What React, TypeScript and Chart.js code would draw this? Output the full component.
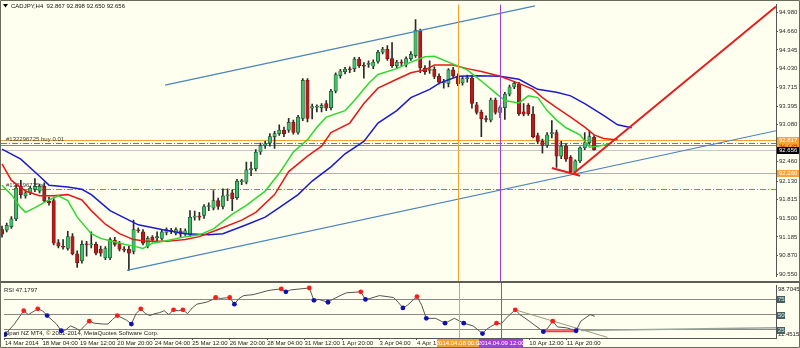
import React, { useEffect, useRef } from 'react';
import { Chart, registerables } from 'chart.js';

Chart.register(...registerables);

const FONT = '"Liberation Sans", Arial, Helvetica, sans-serif';
const BG = '#fffff0';

// ---------- CADJPY H4 candles (bar index 0..126) ----------
const opens = [
  91.31, 91.30, 91.36, 91.49, 92.04, 91.88, 91.93, 91.99, 91.96, 92.04,
  91.79, 91.80, 91.09, 91.02, 90.99, 91.19, 90.90, 90.78, 91.06, 91.05,
  91.06, 90.98, 90.83, 90.83, 91.13, 91.08, 90.98, 90.98, 90.94, 91.30,
  91.27, 91.03, 91.18, 91.17, 91.16, 91.26, 91.29, 91.25, 91.29, 91.24,
  91.22, 91.52, 91.53, 91.55, 91.70, 91.67, 91.80, 91.70, 91.88, 91.93,
  91.85, 92.12, 92.11, 92.32, 92.34, 92.62, 92.73, 92.77, 92.88, 92.93,
  92.99, 92.99, 93.12, 92.95, 93.19, 93.83, 93.36, 93.38, 93.37, 93.44,
  93.37, 93.65, 93.91, 93.98, 94.02, 94.03, 94.19, 94.08, 94.10, 94.07,
  94.15, 94.31, 94.36, 94.20, 94.08, 94.13, 94.10, 94.20, 94.25, 94.67,
  94.04, 94.00, 94.02, 93.90, 93.79, 93.78, 94.01, 93.90, 93.79, 93.86,
  93.87, 93.42, 93.29, 93.18, 93.16, 93.50, 93.29, 93.37, 93.60, 93.72,
  93.77, 93.30, 93.41, 93.26, 92.90, 92.80, 92.73, 92.93, 92.95, 92.55,
  92.72, 92.53, 92.29, 92.47, 92.69, 92.78, 92.867,
];
const highs = [
  91.37, 91.42, 91.53, 92.06, 92.14, 91.97, 92.04, 92.17, 92.08, 92.10,
  91.86, 91.86, 91.14, 91.14, 91.28, 91.24, 90.95, 91.12, 91.11, 91.27,
  91.10, 91.03, 91.02, 91.17, 91.18, 91.11, 91.02, 91.03, 91.47, 91.34,
  91.31, 91.19, 91.21, 91.27, 91.30, 91.34, 91.33, 91.34, 91.33, 91.32,
  91.63, 91.62, 91.60, 91.73, 91.76, 91.97, 91.84, 92.00, 92.00, 91.98,
  92.16, 92.16, 92.45, 92.45, 92.66, 92.77, 92.80, 92.93, 92.97, 93.08,
  93.04, 93.19, 93.16, 93.24, 93.86, 93.86, 93.43, 93.42, 93.44, 93.49,
  93.68, 93.96, 94.02, 94.05, 94.06, 94.22, 94.22, 94.13, 94.16, 94.18,
  94.34, 94.39, 94.42, 94.47, 94.17, 94.18, 94.23, 94.32, 94.86, 94.70,
  94.08, 94.16, 94.06, 93.94, 93.85, 94.03, 94.05, 93.94, 93.90, 93.92,
  93.90, 93.46, 93.33, 93.23, 93.53, 93.53, 93.40, 93.63, 93.75, 93.81,
  93.80, 93.44, 93.44, 93.39, 92.94, 92.84, 92.95, 93.15, 92.99, 92.80,
  92.76, 92.56, 92.49, 92.71, 92.95, 92.98, 92.898,
];
const lows = [
  91.18, 91.27, 91.33, 91.46, 91.84, 91.84, 91.90, 91.95, 91.93, 91.78,
  91.72, 91.05, 91.00, 90.98, 90.96, 90.88, 90.67, 90.74, 90.86, 91.00,
  90.88, 90.86, 90.80, 90.80, 91.03, 90.95, 90.93, 90.62, 90.90, 91.26,
  91.05, 91.00, 91.10, 91.10, 91.13, 91.22, 91.24, 91.22, 91.19, 91.21,
  91.19, 91.47, 91.47, 91.50, 91.63, 91.64, 91.65, 91.66, 91.80, 91.63,
  91.82, 92.07, 92.08, 92.22, 92.30, 92.58, 92.68, 92.72, 92.68, 92.90,
  92.88, 92.95, 92.92, 92.92, 93.15, 93.13, 93.18, 93.30, 93.30, 93.32,
  93.33, 93.62, 93.87, 93.94, 93.96, 93.98, 94.05, 93.87, 94.05, 94.03,
  94.12, 94.28, 94.17, 94.05, 94.04, 94.08, 94.06, 94.17, 94.22, 93.96,
  93.93, 93.95, 93.86, 93.77, 93.70, 93.72, 93.88, 93.74, 93.75, 93.80,
  93.36, 93.26, 92.88, 93.13, 93.13, 93.26, 93.20, 93.17, 93.57, 93.69,
  93.24, 93.23, 93.24, 92.86, 92.76, 92.60, 92.70, 92.86, 92.36, 92.51,
  92.46, 92.26, 92.26, 92.44, 92.66, 92.75, 92.650,
];
const closes = [
  91.23, 91.38, 91.49, 92.01, 91.90, 91.93, 92.01, 92.04, 92.04, 91.80,
  91.76, 91.08, 91.03, 91.01, 91.19, 90.90, 90.75, 91.06, 91.05, 91.07,
  90.91, 90.91, 90.99, 91.14, 91.06, 90.98, 90.96, 90.91, 91.31, 91.29,
  91.08, 91.16, 91.13, 91.19, 91.27, 91.31, 91.28, 91.31, 91.23, 91.29,
  91.52, 91.53, 91.52, 91.70, 91.71, 91.80, 91.70, 91.88, 91.89, 91.83,
  92.13, 92.13, 92.32, 92.34, 92.62, 92.73, 92.76, 92.88, 92.93, 92.99,
  92.93, 93.12, 92.95, 93.21, 93.83, 93.19, 93.39, 93.39, 93.41, 93.36,
  93.65, 93.93, 93.99, 94.02, 94.01, 94.19, 94.08, 94.07, 94.12, 94.14,
  94.31, 94.36, 94.20, 94.08, 94.14, 94.12, 94.20, 94.27, 94.68, 94.04,
  93.98, 94.02, 93.90, 93.80, 93.81, 94.01, 93.91, 93.77, 93.86, 93.87,
  93.44, 93.29, 93.18, 93.17, 93.50, 93.29, 93.37, 93.60, 93.72, 93.78,
  93.27, 93.26, 93.27, 92.88, 92.80, 92.73, 92.91, 92.94, 92.55, 92.72,
  92.50, 92.29, 92.47, 92.69, 92.78, 92.88, 92.656,
];

// ---------- Alligator lines (bar index, price) ----------
const lipsIdx = [0, 2, 4, 5, 7, 10, 12, 14, 16, 19, 21, 23, 26, 28, 30, 32, 35, 39, 42, 45, 49, 52, 56, 59, 62, 65, 67, 69, 73, 75, 78, 80, 84, 87, 90, 92, 95, 99, 102, 105, 107, 110, 112, 114, 116, 118, 120, 123, 125, 127, 129];
const lipsVal = [92.06, 91.90, 91.68, 91.60, 91.68, 91.81, 91.88, 91.80, 91.52, 91.24, 91.16, 91.12, 91.06, 91.03, 90.99, 91.08, 91.12, 91.19, 91.22, 91.32, 91.57, 91.72, 91.96, 92.26, 92.62, 92.83, 93.04, 93.21, 93.32, 93.49, 93.78, 93.93, 94.03, 94.14, 94.23, 94.24, 94.14, 94.01, 93.82, 93.62, 93.49, 93.45, 93.57, 93.54, 93.32, 93.16, 93.03, 92.91, 92.70, 92.72, 92.75];
const teethIdx = [0, 2, 5, 8, 11, 14, 17, 19, 22, 25, 28, 31, 35, 39, 42, 46, 51, 54, 58, 61, 65, 68, 70, 74, 77, 80, 84, 87, 90, 92, 96, 99, 102, 106, 110, 113, 115, 118, 121, 124, 126, 128, 130, 131];
const teethVal = [92.42, 92.14, 91.96, 91.88, 91.88, 91.90, 91.81, 91.63, 91.40, 91.24, 91.14, 91.11, 91.11, 91.14, 91.19, 91.31, 91.47, 91.60, 91.90, 92.29, 92.55, 92.72, 92.95, 93.11, 93.44, 93.70, 93.85, 93.96, 94.01, 94.09, 94.09, 94.03, 93.98, 93.90, 93.78, 93.68, 93.54, 93.37, 93.21, 93.04, 92.91, 92.85, 92.83, 92.83];
const jawIdx = [0, 4, 8, 10, 14, 17, 19, 23, 27, 29, 34, 39, 44, 47, 52, 56, 59, 63, 66, 70, 73, 77, 80, 84, 87, 91, 93, 97, 101, 106, 110, 114, 118, 121, 124, 128, 131, 134];
const jawVal = [92.67, 92.50, 92.21, 92.06, 92.03, 91.99, 91.90, 91.63, 91.47, 91.39, 91.31, 91.24, 91.22, 91.24, 91.39, 91.52, 91.68, 91.90, 92.13, 92.37, 92.59, 92.80, 93.11, 93.32, 93.54, 93.68, 93.78, 93.90, 93.91, 93.90, 93.85, 93.68, 93.63, 93.57, 93.44, 93.24, 93.08, 93.03];

// ---------- drawn objects ----------
const upperChannelIdx = [34.7, 113.4];
const upperChannelPrice = [93.75, 95.09];
const lowerChannelIdx = [26.6, 164.7];
const lowerChannelPrice = [90.62, 92.98];
const redRayIdx = [121.5, 164.7];
const redRayPrice = [92.25, 95.08];
const redLowIdx = [117, 123];
const redLowPrice = [92.35, 92.22];

const levelPrices = [92.817, 92.777, 92.734, 92.656, 92.26, 91.994];
const orderLabelPrices = [92.777, 91.994];
const orderLabels = ['#132296725 buy 0.01', '#132296725 sl'];
const axisBoxPrices = [92.734, 92.817, 92.656, 92.26];

const priceTicks = [94.98, 94.66, 94.345, 94.03, 93.715, 93.395, 93.08, 92.46, 92.13, 91.815, 91.5, 91.185, 90.87, 90.55];

const vLineIdx = [97, 106];
const vLineLabels = ['2014.04.08 00:00', '2014.04.09 12:00'];

const xTickIdx = [0, 8, 16, 24, 32, 40, 48, 56, 64, 72, 80, 88, 112, 120];
const xTickLabels = ['14 Mar 2014', '18 Mar 04:00', '19 Mar 12:00', '20 Mar 20:00', '24 Mar 04:00', '25 Mar 12:00', '26 Mar 20:00', '28 Mar 04:00', '31 Mar 12:00', '1 Apr 20:00', '3 Apr 04:00', '4 Apr 12:00', '10 Apr 12:00', '11 Apr 20:00'];

// ---------- RSI ----------
const rsiIdx = [0, 2, 4, 5, 6, 7, 8, 9, 11, 12, 13, 14, 15, 16, 17, 18, 19, 21, 22, 23, 24, 26, 27, 28, 29, 30, 31, 32, 33, 34, 35, 36, 37, 38, 39, 40, 41, 43, 44, 45, 46, 48, 49, 50, 51, 53, 56, 57, 59, 60, 61, 63, 65, 66, 67, 69, 70, 72, 73, 76, 77, 78, 80, 83, 84, 85, 86, 88, 89, 90, 92, 94, 96, 98, 100, 102, 103, 105, 106, 107, 109, 110, 112, 115, 116, 117, 118, 120, 122, 123, 125, 126];
const rsiVal = [17.2, 34.4, 56.3, 50.0, 54.7, 59.4, 56.3, 48.4, 34.4, 23.4, 25.0, 31.3, 28.1, 23.4, 31.3, 39.1, 35.9, 34.4, 34.4, 42.2, 48.4, 40.6, 34.4, 51.6, 59.4, 51.6, 48.4, 51.6, 53.1, 56.3, 50.0, 57.8, 56.3, 57.8, 51.6, 60.9, 67.2, 70.3, 73.4, 78.1, 76.6, 78.1, 67.2, 76.6, 81.3, 82.8, 89.1, 90.6, 92.2, 87.5, 90.6, 92.2, 93.8, 73.4, 75.0, 70.3, 75.0, 82.8, 85.9, 87.5, 75.0, 76.6, 81.3, 78.1, 70.3, 60.9, 65.6, 79.7, 65.6, 43.8, 43.8, 35.9, 43.8, 35.9, 31.3, 18.8, 26.6, 35.9, 34.4, 43.8, 57.8, 50.0, 39.1, 21.9, 28.1, 39.1, 29.7, 28.1, 23.4, 39.1, 50.0, 47.1797];
const rsiPeakIdx = [4, 7, 18, 24, 29, 36, 38, 45, 48, 59, 65, 76, 88, 105, 109, 117];
const rsiTroughIdx = [0, 9, 12, 27, 49, 60, 66, 69, 77, 85, 90, 94, 98, 102, 115, 122];
const rsiLevels = [25, 50, 75];
const rsiTrendIdx = [109, 128.7];
const rsiTrendVal = [57.8, 12.5];
const rsiRedIdx = [115, 122];
const rsiRedVal = [22.4, 22.4];
const rsiFlatIdx = [123, 164.7];
const rsiFlatVal = [24.0, 28.5];

const XMIN = -0.213;
const XMAX = 164.7;
const YMIN = 90.518;
const YMAX = 95.112;
const RSI_MIN = 11.4515;
const RSI_MAX = 98.7045;

const pts = (xs: number[], ys: number[]) => xs.map((x, i) => ({ x, y: ys[i] }));
const lineDs = (data: any[], color: string, width: number, order: number, dash: number[] = []) => ({
  type: 'line' as const,
  data,
  borderColor: color,
  borderWidth: width,
  borderDash: dash,
  pointRadius: 0,
  tension: 0,
  fill: false,
  order,
});

const levelStyles = [
  { color: '#f2a238', dash: [] as number[] },
  { color: '#3aa23a', dash: [6, 2, 1, 2] },
  { color: '#ea6a30', dash: [] as number[] },
  { color: '#c8c8c0', dash: [] as number[] },
  { color: '#f2a238', dash: [] as number[] },
  { color: '#e8603c', dash: [6, 2, 1, 2] },
];
const axisBoxStyles = [
  { bg: '#f5a33c', fg: '#d8281c' },
  { bg: '#f5a33c', fg: '#ffffff' },
  { bg: '#000000', fg: '#ffffff' },
  { bg: '#f5a33c', fg: '#ffffff' },
];
const vLineColors = ['#f5a030', '#a040d8'];

function mainConfig(): any {
  const n = opens.length;
  const idx = opens.map((_, i) => i);
  const wickData = idx.map((i) => ({ x: i, y: [lows[i], highs[i]] }));
  const bodyData = idx.map((i) => ({ x: i, y: [Math.min(opens[i], closes[i]), Math.max(opens[i], closes[i])] }));
  const bull = idx.map((i) => closes[i] >= opens[i]);
  const last = n - 1;

  const plugin = {
    id: 'mainDeco',
    beforeDraw(chart: any) {
      const { ctx, width, height } = chart;
      ctx.save();
      ctx.fillStyle = BG;
      ctx.fillRect(0, 0, width, height);
      ctx.restore();
    },
    beforeDatasetsDraw(chart: any) {
      const { ctx, chartArea: a } = chart;
      const y = chart.scales.y;
      ctx.save();
      ctx.beginPath();
      ctx.rect(a.left, a.top, a.right - a.left, a.bottom - a.top);
      ctx.clip();
      levelPrices.forEach((v, i) => {
        const st = levelStyles[i];
        const py = Math.round(y.getPixelForValue(v)) + 0.5;
        ctx.strokeStyle = st.color;
        ctx.lineWidth = 1;
        ctx.setLineDash(st.dash);
        ctx.beginPath();
        ctx.moveTo(a.left, py);
        ctx.lineTo(a.right, py);
        ctx.stroke();
      });
      ctx.setLineDash([]);
      ctx.font = `6px ${FONT}`;
      ctx.fillStyle = '#3a3a3a';
      ctx.textAlign = 'left';
      ctx.textBaseline = 'bottom';
      orderLabelPrices.forEach((v, i) => {
        ctx.fillText(orderLabels[i], a.left + 5, Math.round(y.getPixelForValue(v)) - 0.5);
      });
      ctx.restore();
    },
    afterDatasetsDraw(chart: any) {
      const { ctx, chartArea: a } = chart;
      const x = chart.scales.x;
      ctx.save();
      vLineIdx.forEach((v, i) => {
        const px = Math.round(x.getPixelForValue(v)) + 0.5;
        ctx.strokeStyle = vLineColors[i];
        ctx.lineWidth = 1;
        ctx.beginPath();
        ctx.moveTo(px, a.top);
        ctx.lineTo(px, chart.height);
        ctx.stroke();
      });
      ctx.restore();
    },
    afterDraw(chart: any) {
      const { ctx, chartArea: a, width } = chart;
      const y = chart.scales.y;
      ctx.save();
      // header
      ctx.fillStyle = '#000';
      ctx.beginPath();
      ctx.moveTo(3, 4);
      ctx.lineTo(8, 4);
      ctx.lineTo(5.5, 7.5);
      ctx.closePath();
      ctx.fill();
      ctx.font = `6px ${FONT}`;
      ctx.fillStyle = '#111';
      ctx.textAlign = 'left';
      ctx.textBaseline = 'middle';
      ctx.fillText(
        `CADJPY,H4  ${opens[last].toFixed(3)} ${highs[last].toFixed(3)} ${lows[last].toFixed(3)} ${closes[last].toFixed(3)}`,
        11,
        6.5
      );
      // axis boxes
      axisBoxPrices.forEach((v, i) => {
        const st = axisBoxStyles[i];
        const py = y.getPixelForValue(v);
        ctx.fillStyle = st.bg;
        ctx.fillRect(a.right + 1, Math.round(py) - 3, width - a.right - 1, 7);
        ctx.fillStyle = st.fg;
        ctx.fillText(v.toFixed(3), a.right + 3, Math.round(py) + 0.5);
      });
      // frame
      ctx.strokeStyle = '#6b6b5c';
      ctx.lineWidth = 1;
      ctx.beginPath();
      ctx.moveTo(0.5, chart.height);
      ctx.lineTo(0.5, 0.5);
      ctx.lineTo(width - 0.5, 0.5);
      ctx.lineTo(width - 0.5, chart.height);
      ctx.stroke();
      ctx.restore();
    },
  };

  return {
    type: 'line',
    data: {
      datasets: [
        {
          type: 'bar',
          data: wickData,
          backgroundColor: '#2a2a2a',
          barThickness: 1,
          grouped: false,
          order: 20,
        },
        {
          type: 'bar',
          data: bodyData,
          backgroundColor: bull.map((b) => (b ? '#3fbf6a' : '#b41c1c')),
          borderColor: bull.map((b) => (b ? '#1e4a2c' : '#7c1010')),
          borderWidth: 0.7,
          borderSkipped: false,
          barThickness: 3.4,
          minBarLength: 1,
          grouped: false,
          order: 19,
        },
        lineDs(pts(jawIdx, jawVal), '#1a1ad0', 1.5, 8),
        lineDs(pts(teethIdx, teethVal), '#e81818', 1.5, 7),
        lineDs(pts(lipsIdx, lipsVal), '#2ed82e', 1.5, 6),
        lineDs(pts(upperChannelIdx, upperChannelPrice), '#4a84bc', 1.2, 5),
        lineDs(pts(lowerChannelIdx, lowerChannelPrice), '#4a84bc', 1.2, 5),
        lineDs(pts(redLowIdx, redLowPrice), '#e41e1e', 2, 1),
        lineDs(pts(redRayIdx, redRayPrice), '#e41e1e', 2, 0),
      ],
    },
    options: {
      responsive: false,
      animation: false,
      events: [],
      plugins: { legend: { display: false }, tooltip: { enabled: false } },
      layout: { padding: { left: 1, top: 1, right: 0, bottom: 0 } },
      scales: {
        x: { type: 'linear', display: false, min: XMIN, max: XMAX, offset: false },
        y: {
          type: 'linear',
          position: 'right',
          min: YMIN,
          max: YMAX,
          afterBuildTicks: (s: any) => {
            s.ticks = priceTicks.map((v) => ({ value: v }));
          },
          afterFit: (s: any) => {
            s.width = 24;
          },
          ticks: {
            autoSkip: false,
            padding: 1,
            color: '#2a2a2a',
            font: { size: 6, family: FONT },
            callback: (v: any) => Number(v).toFixed(3),
          },
          grid: { drawOnChartArea: false, tickLength: 2, color: '#555' },
          border: { display: true, color: '#555' },
        },
      },
    },
    plugins: [plugin],
  };
}

function rsiConfig(): any {
  const rsiAt = (i: number) => rsiVal[rsiIdx.indexOf(i)];
  const plugin = {
    id: 'rsiDeco',
    beforeDraw(chart: any) {
      const { ctx, width, height } = chart;
      ctx.save();
      ctx.fillStyle = BG;
      ctx.fillRect(0, 0, width, height);
      ctx.restore();
    },
    afterDatasetsDraw(chart: any) {
      const { ctx, chartArea: a } = chart;
      const x = chart.scales.x;
      ctx.save();
      vLineIdx.forEach((v, i) => {
        const px = Math.round(x.getPixelForValue(v)) + 0.5;
        ctx.strokeStyle = vLineColors[i];
        ctx.lineWidth = 1;
        ctx.beginPath();
        ctx.moveTo(px, 0);
        ctx.lineTo(px, a.bottom);
        ctx.stroke();
      });
      ctx.restore();
    },
    afterDraw(chart: any) {
      const { ctx, chartArea: a, width, height } = chart;
      const x = chart.scales.x;
      const y = chart.scales.y;
      ctx.save();
      // separator
      ctx.fillStyle = '#5e5e58';
      ctx.fillRect(0, 0, width, 2);
      ctx.font = `6px ${FONT}`;
      ctx.textBaseline = 'middle';
      ctx.textAlign = 'left';
      ctx.fillStyle = '#222';
      ctx.fillText(`RSI ${rsiVal[rsiVal.length - 1].toFixed(4)}`, 4, a.top + 5);
      ctx.fillText('Alpari NZ MT4, \u00a9 2001-2014, MetaQuotes Software Corp.', 4, a.bottom - 5);
      // axis labels
      ctx.fillText(RSI_MAX.toFixed(4), a.right + 2, a.top + 4);
      ctx.fillText(RSI_MIN.toFixed(4), a.right + 2, a.bottom - 4);
      rsiLevels.forEach((v) => {
        const py = Math.round(y.getPixelForValue(v));
        ctx.fillStyle = '#46605e';
        ctx.fillRect(a.right + 1, py - 3, 8, 7);
        ctx.fillStyle = '#d8ecec';
        ctx.fillText(String(v), a.right + 2, py + 0.5);
      });
      // date boxes
      ctx.textAlign = 'center';
      vLineIdx.forEach((v, i) => {
        const px = x.getPixelForValue(v);
        ctx.fillStyle = vLineColors[i];
        ctx.fillRect(Math.round(px - 22), a.bottom + 1, 44, 8);
        ctx.fillStyle = '#fff';
        ctx.fillText(vLineLabels[i], px, a.bottom + 5);
      });
      // frame
      ctx.strokeStyle = '#6b6b5c';
      ctx.lineWidth = 1;
      ctx.beginPath();
      ctx.moveTo(0.5, 0);
      ctx.lineTo(0.5, height - 0.5);
      ctx.lineTo(width - 0.5, height - 0.5);
      ctx.lineTo(width - 0.5, 0);
      ctx.stroke();
      ctx.restore();
    },
  };

  return {
    type: 'line',
    data: {
      datasets: [
        lineDs(pts(rsiFlatIdx, rsiFlatVal), '#9aa69a', 1.5, 5),
        lineDs(pts(rsiTrendIdx, rsiTrendVal), '#9a9a80', 1, 4),
        lineDs(pts(rsiRedIdx, rsiRedVal), '#f04040', 2, 3),
        lineDs(pts(rsiIdx, rsiVal), '#555555', 1, 2),
        {
          type: 'line',
          data: pts(rsiPeakIdx, rsiPeakIdx.map(rsiAt)),
          showLine: false,
          pointRadius: 2.4,
          pointBorderWidth: 0,
          pointBackgroundColor: '#ff1a1a',
          order: 1,
        },
        {
          type: 'line',
          data: pts(rsiTroughIdx, rsiTroughIdx.map(rsiAt)),
          showLine: false,
          pointRadius: 2.4,
          pointBorderWidth: 0,
          pointBackgroundColor: '#1010b0',
          order: 0,
        },
      ],
    },
    options: {
      responsive: false,
      animation: false,
      events: [],
      plugins: { legend: { display: false }, tooltip: { enabled: false } },
      layout: { padding: { left: 1, top: 2, right: 0, bottom: 0 } },
      scales: {
        x: {
          type: 'linear',
          position: 'bottom',
          min: XMIN,
          max: XMAX,
          offset: false,
          afterBuildTicks: (s: any) => {
            s.ticks = xTickIdx.map((v) => ({ value: v }));
          },
          afterFit: (s: any) => {
            s.height = 10;
          },
          ticks: {
            autoSkip: false,
            maxRotation: 0,
            minRotation: 0,
            align: 'start',
            padding: 0,
            color: '#222',
            font: { size: 6, family: FONT },
            callback: (v: any) => {
              const k = xTickIdx.indexOf(Number(v));
              return k >= 0 ? xTickLabels[k] : '';
            },
          },
          grid: { drawOnChartArea: false, tickLength: 2, color: '#555' },
          border: { display: true, color: '#555' },
        },
        y: {
          type: 'linear',
          position: 'right',
          min: RSI_MIN,
          max: RSI_MAX,
          afterBuildTicks: (s: any) => {
            s.ticks = rsiLevels.map((v) => ({ value: v }));
          },
          afterFit: (s: any) => {
            s.width = 24;
          },
          ticks: { display: false },
          grid: { drawTicks: false, color: '#8a8a84' },
          border: { display: true, color: '#555' },
        },
      },
    },
    plugins: [plugin],
  };
}

export default function App() {
  const mainRef = useRef<HTMLCanvasElement>(null);
  const rsiRef = useRef<HTMLCanvasElement>(null);

  useEffect(() => {
    Chart.defaults.font.family = FONT;
    const main = new Chart(mainRef.current as HTMLCanvasElement, mainConfig());
    const rsi = new Chart(rsiRef.current as HTMLCanvasElement, rsiConfig());
    return () => {
      main.destroy();
      rsi.destroy();
    };
  }, []);

  return (
    <div style={{ position: 'fixed', left: 0, top: 0, width: 800, height: 348, background: BG, overflow: 'hidden' }}>
      <canvas ref={mainRef} width={800} height={281} style={{ position: 'absolute', left: 0, top: 0, width: 800, height: 281 }} />
      <canvas ref={rsiRef} width={800} height={67} style={{ position: 'absolute', left: 0, top: 281, width: 800, height: 67 }} />
    </div>
  );
}
